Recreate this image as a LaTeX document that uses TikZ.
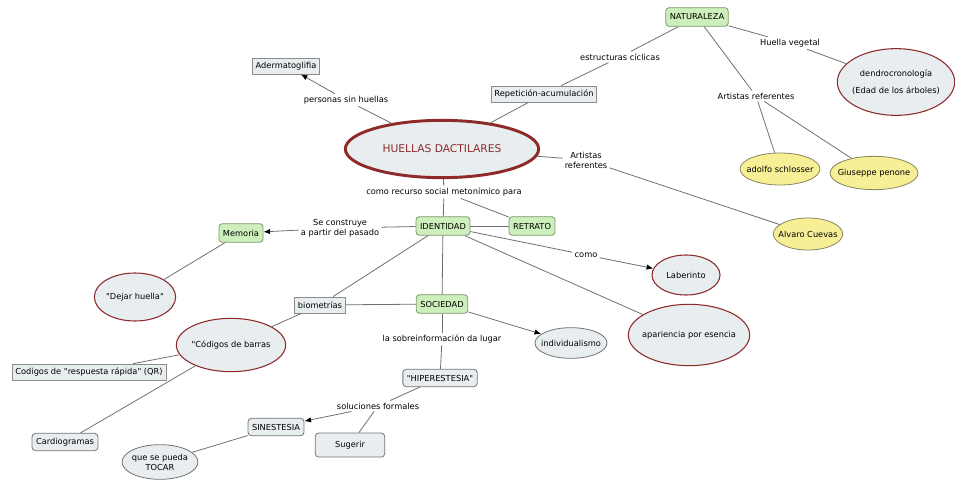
\documentclass[tikz,border=0pt]{standalone}
\usepackage{fontspec}
\setmainfont{DejaVu Sans}
\newfontfamily\mapfont{DejaVu Sans}
\usepackage{tikz}
\usetikzlibrary{arrows.meta,shapes.geometric}

\definecolor{mapgreen}{HTML}{CDEFBC}
\definecolor{mapgreenline}{HTML}{7E9670}
\definecolor{mapblue}{HTML}{E8EEF0}
\definecolor{mapyellow}{HTML}{F6EF96}
\definecolor{mapyellowline}{HTML}{8A8460}
\definecolor{mapred}{HTML}{8E2A2A}
\definecolor{mapline}{HTML}{707070}

\begin{document}
\begin{tikzpicture}[
    x=0.75pt, y=-0.75pt,
    >=Latex,
    font=\mapfont\fontsize{6.2}{7.6}\selectfont,
    greenbox/.style={
        draw=mapgreenline,
        fill=mapgreen,
        rounded corners=2.5pt,
        semithick,
        inner sep=3pt,
        minimum height=14pt
    },
    rectbox/.style={
        draw=gray!90,
        fill=mapblue,
        semithick,
        inner sep=2.5pt,
        minimum height=12pt
    },
    roundbox/.style={
        draw=gray!90!black,
        fill=mapblue,
        rounded corners=2.5pt,
        semithick,
        inner sep=3pt,
        minimum height=13pt
    },
    redell/.style={
        ellipse,
        draw=mapred,
        fill=mapblue,
        thick,
        inner xsep=-4pt,
        inner ysep=0pt,
        align=center
    },
    grayell/.style={
        ellipse,
        draw=gray!90!black,
        fill=mapblue,
        semithick,
        inner xsep=-4pt,
        inner ysep=0pt,
        align=center
    },
    yellowell/.style={
        ellipse,
        draw=mapyellowline,
        fill=mapyellow,
        semithick,
        inner xsep=-4pt,
        inner ysep=0pt
    },
    linklabel/.style={
        inner sep=1.5pt,
        align=center
    },
    link/.style={draw=mapline, semithick},
    arrowlink/.style={link, -{Latex[length=5pt,width=4pt,black]}}
]
\useasboundingbox (0,0) rectangle (955,481);

% main concept
\node[redell, draw=mapred, line width=2.2pt, minimum width=145pt, minimum height=43pt,
    font=\mapfont\fontsize{8}{9}\selectfont, text=mapred] (huellas) at (442,149) {HUELLAS DACTILARES};

% top part
\node[rectbox] (aderm) at (286,66) {Adermatoglifia};
\node[linklabel] (lsin) at (346,100) {personas sin huellas};
\node[rectbox] (repet) at (544,94) {Repetición-acumulación};
\node[linklabel] (lcicl) at (620,57) {estructuras cíclicas};
\node[greenbox] (natur) at (697,17) {NATURALEZA};
\node[linklabel] (lveg) at (790,43) {Huella vegetal};
\node[redell, minimum width=88pt, minimum height=50pt] (dendro) at (896,82)
{dendrocronología\\[5pt](Edad de los árboles)};
\node[linklabel] (lart1) at (756,96) {Artistas referentes};
\node[yellowell, minimum width=60pt, minimum height=24pt] (adolfo) at (780,169) {adolfo schlosser};
\node[yellowell, minimum width=66pt, minimum height=25pt] (penone) at (874,173) {Giuseppe penone};
\node[linklabel] (lart2) at (586,160) {Artistas\\referentes};
\node[yellowell, minimum width=52pt, minimum height=24pt] (cuevas) at (808,234) {Alvaro Cuevas};

\draw[link] (huellas) -- (lsin);
\draw[arrowlink] (lsin) -- (aderm);
\draw[link] (huellas) -- (repet);
\draw[link] (repet) -- (lcicl);
\draw[link] (lcicl) -- (natur);
\draw[link] (natur) -- (lveg);
\draw[link] (lveg) -- (dendro);
\draw[link] (natur) -- (lart1);
\draw[link] (lart1) -- (adolfo);
\draw[link] (lart1) -- (penone);
\draw[link] (huellas) -- (lart2);
\draw[link] (lart2) -- (cuevas);

% identidad
\node[linklabel] (lrecur) at (444,192) {como recurso social metonímico para};
\node[greenbox] (ident) at (443,226) {IDENTIDAD};
\node[greenbox] (retrato) at (532,226) {RETRATO};
\node[linklabel] (lpasado) at (340,228) {Se construye\\a partir del pasado};
\node[greenbox] (memoria) at (241,233) {Memoria};
\node[redell, minimum width=61pt, minimum height=36pt] (dejar) at (135,297) {"Dejar huella"};
\node[linklabel] (lcomo) at (586,255) {como};
\node[redell, minimum width=51pt, minimum height=30pt] (laber) at (686,275) {Laberinto};
\node[redell, minimum width=91pt, minimum height=46pt] (apar) at (689,335) {apariencia por esencia};

\draw[link] (huellas) -- (lrecur);
\draw[link] (lrecur) -- (ident);
\draw[link] (lrecur) -- (retrato);
\draw[link] (ident) -- (retrato);
\draw[link] (ident) -- (lpasado);
\draw[arrowlink] (lpasado) -- (memoria);
\draw[link] (memoria) -- (dejar);
\draw[link] (ident) -- (lcomo);
\draw[arrowlink] (lcomo) -- (laber);
\draw[link] (ident) -- (apar);

% sociedad
\node[rectbox] (biom) at (320,305) {biometrías};
\node[greenbox] (socied) at (442,304) {SOCIEDAD};
\node[grayell, minimum width=54pt, minimum height=23pt] (indiv) at (571,343) {individualismo};
\node[redell, minimum width=82pt, minimum height=40pt] (barras) at (231,345) {"Códigos de barras};
\node[rectbox] (qr) at (89,372) {Codigos de "respuesta rápida" (QR)};
\node[roundbox] (cardio) at (65,442) {Cardiogramas};
\node[linklabel] (lsobre) at (442,339) {la sobreinformación da lugar};
\node[roundbox] (hiper) at (440,378) {"HIPERESTESIA"};
\node[linklabel] (lsoluc) at (378,406) {soluciones formales};
\node[roundbox] (sines) at (276,427) {SINESTESIA};
\node[roundbox, minimum width=52pt, minimum height=18pt] (sugerir) at (350,445) {Sugerir};
\node[grayell, minimum width=57pt, minimum height=26pt] (tocar) at (160,462) {que se pueda\\TOCAR};

\draw[link] (ident) -- (biom);
\draw[link] (ident) -- (socied);
\draw[link] (biom) -- (socied);
\draw[link] (biom) -- (barras);
\draw[link] (barras) -- (qr);
\draw[link] (barras) -- (cardio);
\draw[arrowlink] (socied) -- (indiv);
\draw[link] (socied) -- (lsobre);
\draw[link] (lsobre) -- (hiper);
\draw[link] (hiper) -- (lsoluc);
\draw[arrowlink] (lsoluc) -- (sines);
\draw[link] (lsoluc) -- (sugerir);
\draw[link] (sines) -- (tocar);

\end{tikzpicture}
\end{document}
